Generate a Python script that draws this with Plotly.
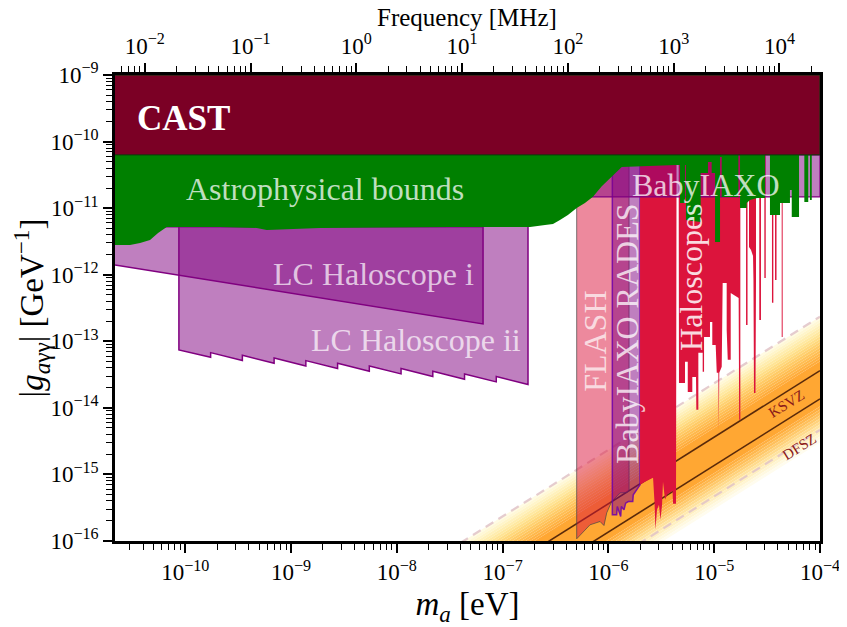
import numpy as np
import plotly.graph_objects as go

# All limits are log10 values (log10 m_a [eV], log10 g [1/GeV])
xlim = [-10.664, -4.0]
ylim = [-16.0, -9.0]
freq_lim = [-2.281, 4.383]

freq_exps = [-2, -1, 0, 1, 2, 3, 4]
mass_exps = [-10, -9, -8, -7, -6, -5, -4]
coupling_exps = [-16, -15, -14, -13, -12, -11, -10, -9]

cast_m = [-10.664, -4.0, -4.0, -10.664]
cast_g = [-9.0, -9.0, -10.2, -10.2]

astro_m = [-10.664, -4.0,
           -4.0, -4.078, -4.078, -4.095, -4.095, -4.111, -4.111, -4.148, -4.148, -4.198, -4.198, -4.267, -4.267,
           -4.284, -4.284, -4.378, -4.378, -4.473, -4.473, -4.52, -4.52, -4.595, -4.662, -4.693, -4.693, -4.756,
           -4.756, -4.772, -4.772, -4.929, -4.929, -4.945, -4.945, -4.992, -4.992, -5.024, -5.024, -5.059, -5.059,
           -5.128, -5.128, -5.267, -5.267, -5.276, -5.276, -5.323, -5.323, -5.361,
           -5.874, -5.968, -6.063, -6.146, -6.222, -6.3, -6.383, -6.458, -6.524, -6.599, -6.741, -7.497, -8.726, -9.23,
           -9.324, -9.671, -10.175, -10.257, -10.333, -10.427, -10.522, -10.664]
astro_g = [-10.2, -10.2,
           -10.2, -10.2, -10.877, -10.877, -10.2, -10.2, -10.907, -10.907, -10.2, -10.2, -11.132, -11.132, -10.727,
           -10.727, -10.922, -10.922, -11.102, -11.102, -10.2, -10.2, -10.847, -10.847, -10.877, -10.922, -10.997,
           -10.997, -10.2, -10.2, -10.832, -10.832, -10.231, -10.231, -11.508, -11.508, -10.471, -10.471, -10.306,
           -10.306, -10.471, -10.471, -11.207, -11.177, -10.351, -10.351, -10.922, -10.922, -10.351, -10.351,
           -10.381, -10.531, -10.673, -10.83, -10.922, -10.997, -11.102, -11.177, -11.237, -11.252, -11.282, -11.282,
           -11.297, -11.327, -11.297, -11.282, -11.282, -11.372, -11.477, -11.523, -11.553, -11.553]

babyiaxo_m = [-6.3, -4.0, -4.0, -6.3]
babyiaxo_g = [-10.2, -10.2, -10.832, -10.832]

haloscope_m = [-5.701, -5.701, -5.654, -5.607, -5.578, -5.564, -5.555, -5.541, -5.522, -5.508, -5.493, -5.484, -5.465,
               -5.446, -5.394, -5.389, -5.361, -5.356, -5.336, -5.333, -5.276, -5.276, -5.25, -5.25, -5.207, -5.207,
               -5.172, -5.169, -5.15, -5.15, -5.109, -5.109, -5.096, -5.096, -5.04, -5.04, -5.018, -5.018, -4.986,
               -4.976, -4.961, -4.957, -4.952, -4.929, -4.92, -4.882, -4.882, -4.872, -4.844, -4.844, -4.775, -4.769,
               -4.764, -4.753, -4.753, -4.699, -4.699, -4.685, -4.685, -4.671, -4.671, -4.652, -4.633, -4.629, -4.624,
               -4.61, -4.605, -4.605, -4.574, -4.574, -4.558, -4.558, -4.526, -4.526, -4.513, -4.513, -4.454, -4.454,
               -4.441, -4.441, -4.425, -4.425, -4.411, -4.411, -4.362, -4.362, -4.353, -4.353]
haloscope_g = [-10.2, -15.156, -15.111, -15.081, -15.051, -15.426, -15.832, -15.532, -15.456, -15.682, -15.456, -15.111,
               -15.381, -15.306, -15.246, -15.441, -15.441, -10.2, -10.2, -13.625, -13.625, -13.309, -13.309, -13.76,
               -13.76, -13.535, -13.535, -14.03, -14.03, -13.174, -13.174, -13.459, -13.459, -12.934, -12.934, -12.709,
               -12.709, -13.054, -13.054, -13.474, -13.474, -14.33, -13.474, -13.384, -12.123, -12.123, -12.829, -13.279,
               -13.279, -12.273, -12.348, -12.348, -14.18, -14.18, -10.2, -10.2, -12.754, -12.754, -10.2, -10.2, -11.583,
               -11.628, -11.718, -12.078, -13.775, -13.775, -12.078, -10.2, -10.2, -12.679, -12.679, -10.2, -10.2, -12.048,
               -12.048, -10.2, -10.2, -12.423, -12.423, -10.2, -10.2, -12.078, -12.078, -10.2, -10.2, -12.934, -12.934,
               -10.2]

flash_m = [-6.3, -6.3, -6.174, -6.079, -6.042, -6.016, -5.969, -5.89, -5.827, -5.805, -5.805]
flash_g = [-10.2, -15.967, -15.757, -15.707, -15.767, -15.577, -15.407, -15.276, -15.272, -15.246, -10.2]

rades_m = [-5.963, -5.963, -5.922, -5.916, -5.884, -5.878, -5.853, -5.837, -5.812, -5.77, -5.765, -5.701, -5.701]
rades_g = [-10.2, -15.607, -15.607, -15.482, -15.632, -15.482, -15.532, -15.431, -15.407, -15.407, -15.306, -15.156, -10.2]

lc1_m = [-10.664, -7.185, -7.185, -10.664]
lc1_g = [-11.853, -12.739, -11.28, -11.28]

lc2_m = [-10.06, -10.06, -9.76, -9.76, -9.46, -9.46, -9.16, -9.16, -8.86, -8.86, -8.56, -8.56, -8.26, -8.26,
         -7.96, -7.96, -7.66, -7.66, -7.36, -7.36, -7.06, -7.06, -6.76, -6.76]
lc2_g = [-11.28, -13.13, -13.24, -13.17, -13.29, -13.21, -13.33, -13.25, -13.37, -13.29, -13.41, -13.33, -13.45, -13.37,
         -13.49, -13.41, -13.53, -13.45, -13.57, -13.49, -13.61, -13.53, -13.65, -11.28]

# QCD band, each stripe edge given as log10 g at m_a = 1e-4 eV
band_m = [-8.0, -4.0]
band_edges = [-12.63, -12.672, -12.714, -12.756, -12.798, -12.84, -12.882, -12.924, -12.966, -13.008, -13.05, -13.092,
              -13.134, -13.176, -13.218, -13.26, -13.30, -13.98, -14.025, -14.07, -14.115, -14.16, -14.205, -14.25,
              -14.295, -14.34, -14.385, -14.43, -14.475, -14.52]
band_colors = ['#FFFBE3', '#FFF8D6', '#FFF5C9', '#FFF1BB', '#FFEDAE', '#FFE9A1', '#FFE494', '#FFDE87', '#FFD87B',
               '#FFD170', '#FFCB66', '#FFC45C', '#FFBE53', '#FFB84B', '#FFB243', '#FFAC3B', '#FFA733', '#FFAF40',
               '#FFB84E', '#FFC05C', '#FFC96B', '#FFD27C', '#FFDB8D', '#FFE39F', '#FFEAB1', '#FFF0C2', '#FFF5D2',
               '#FFF9E1', '#FFFCEE']
ksvz_g = -13.44
dfsz_g = -13.865
dash_upper_g = -12.63
dash_lower_g = -14.33

FONT = 'Liberation Serif'
PURPLE = 'purple'
CRIMSON = 'crimson'


def area(logm, logg, fill, line_color=None, line_width=0):
    return go.Scatter(
        x=10 ** np.array(logm), y=10 ** np.array(logg), mode='lines', fill='toself', fillcolor=fill,
        line={'color': line_color or fill, 'width': line_width}, showlegend=False, hoverinfo='skip',
    )


def band_line(g_right, color, width, dash='solid'):
    logm = np.array(band_m)
    return go.Scatter(
        x=10 ** logm, y=10 ** (g_right + logm + 4.0), mode='lines',
        line={'color': color, 'width': width, 'dash': dash}, showlegend=False, hoverinfo='skip',
    )


def power_axis(exps):
    # every decade written out as 10^n, plotly would otherwise print 1 and 10
    labels = [f'10<sup>{str(e).replace("-", "−")}</sup>' for e in exps]
    return dict(
        type='log', tickmode='array', tickvals=[10.0 ** e for e in exps], ticktext=labels,
        showgrid=False, zeroline=False, showline=True, linecolor='black', linewidth=2.5,
        ticks='outside', ticklen=9, tickwidth=1.6, tickcolor='black', automargin=False,
        tickfont={'family': FONT, 'size': 23, 'color': 'black'},
        minor={'ticks': 'outside', 'ticklen': 6, 'tickwidth': 1, 'tickcolor': 'black', 'dtick': 'D1', 'showgrid': False},
    )


fig = go.Figure()

# QCD band
for i, color in enumerate(band_colors):
    stripe_m = band_m + band_m[::-1]
    stripe_g = [band_edges[i] - 4.0, band_edges[i], band_edges[i + 1], band_edges[i + 1] - 4.0]
    fig.add_trace(area(stripe_m, stripe_g, color))

fig.add_trace(band_line(ksvz_g, '#5a2a0a', 1.6))
fig.add_trace(band_line(dfsz_g, '#5a2a0a', 1.6))
fig.add_trace(band_line(dash_upper_g, 'rgba(225,195,200,0.85)', 2.2, '9px,6px'))
fig.add_trace(band_line(dash_lower_g, 'rgba(225,195,200,0.85)', 2.2, '9px,6px'))

# Bounds and projections, back to front
fig.add_trace(area(lc2_m, lc2_g, 'rgba(128,0,128,0.5)', PURPLE, 1.5))
fig.add_trace(area(lc1_m, lc1_g, 'rgba(128,0,128,0.5)', PURPLE, 1.5))
fig.add_trace(area(flash_m, flash_g, 'rgba(220,20,60,0.5)', 'rgba(70,70,70,0.7)', 1))
fig.add_trace(area(rades_m, rades_g, 'rgba(128,0,128,0.5)', 'rgba(110,0,170,0.85)', 1.5))
fig.add_trace(area(haloscope_m, haloscope_g, CRIMSON))
fig.add_trace(area(babyiaxo_m, babyiaxo_g, 'rgba(128,0,128,0.5)', PURPLE, 1.2))
fig.add_trace(area(astro_m, astro_g, 'green'))
fig.add_trace(area(cast_m, cast_g, '#7b0025', '#0a3c0a', 1))

# empty trace so the frequency axis gets drawn on top
fig.add_trace(go.Scatter(x=[10 ** freq_lim[0], 10 ** freq_lim[1]], y=[1e-12, 1e-12], mode='none',
                         xaxis='x2', showlegend=False, hoverinfo='skip'))

labels = [
    ('CAST', -10.021, -9.646, 0, 35, 'white', True),
    ('Astrophysical bounds', -8.679, -10.712, 0, 32, 'rgba(255,255,255,0.75)', False),
    ('BabyIAXO', -5.078, -10.652, 0, 32, 'rgba(255,255,255,0.75)', False),
    ('LC Haloscope i', -8.216, -11.988, 0, 32, 'rgba(255,255,255,0.7)', False),
    ('LC Haloscope ii', -7.819, -12.979, 0, 32, 'rgba(255,255,255,0.7)', False),
    ('FLASH', -6.127, -12.994, -90, 32, 'rgba(255,255,255,0.7)', False),
    ('BabyIAXO RADES', -5.824, -12.889, -90, 32, 'rgba(255,255,255,0.75)', False),
    ('Haloscopes', -5.219, -12.033, -90, 32, 'rgba(255,255,255,0.85)', False),
    ('KSVZ', -4.321, -13.94, -32, 15, '#8b1a1a', False),
    ('DFSZ', -4.198, -14.586, -32, 15, '#8b1a1a', False),
]
for text, x, y, angle, size, color, bold in labels:
    fig.add_annotation(x=x, y=y, xref='x', yref='y', text=f'<b>{text}</b>' if bold else text, showarrow=False,
                       textangle=angle, font={'family': FONT, 'size': size, 'color': color})

# axis title would sit on the tick labels here, so it goes in as an annotation
fig.add_annotation(x=0.499, y=1.124, xref='paper', yref='paper', xanchor='center', yanchor='middle',
                   text='Frequency [MHz]', showarrow=False,
                   font={'family': FONT, 'size': 25, 'color': 'black'})

# the page keeps an 8 px body margin, so the figure is 8 px smaller than the window
fig.update_layout(
    width=839, height=619,
    margin={'l': 107, 'r': 27, 't': 67, 'b': 86},
    plot_bgcolor='white', paper_bgcolor='white',
    font={'family': FONT, 'color': 'black'},
    showlegend=False,
    xaxis=dict(range=xlim, mirror=True,
               title={'text': '<i>m</i><sub><i>a</i></sub> [eV]', 'font': {'size': 33}}, **power_axis(mass_exps)),
    xaxis2=dict(range=freq_lim, overlaying='x', side='top', anchor='y', **power_axis(freq_exps)),
    yaxis=dict(range=ylim, mirror=True,
               title={'text': '|<i>g</i><sub><i>a</i>γγ</sub>| [GeV<sup>−1</sup>]', 'font': {'size': 33}},
               **power_axis(coupling_exps)),
)

fig.write_html("out.html")
